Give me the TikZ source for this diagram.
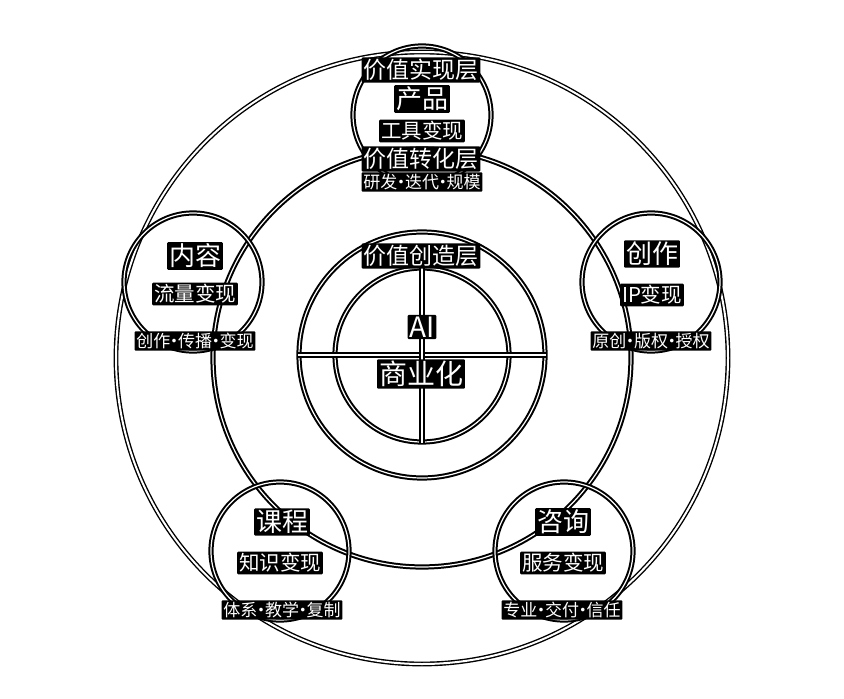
\documentclass[tikz,border=0pt]{standalone}
\usepackage{fontspec}
\newfontfamily\cjk{Noto Sans CJK SC}
\newcommand\mdot{\makebox[0.45em]{·}}
\begin{document}
\begin{tikzpicture}[x=1pt,y=-1pt,
  ln/.style={draw=black, line width=2pt, double=white, double distance=1.2pt},
  thinln/.style={draw=black, line width=1.4pt, double=white, double distance=2pt},
  ring/.style={ln, circle, inner sep=0pt, fill=none},
  lab/.style={fill=black, text=white, inner sep=1.8pt, rounded corners=1pt},
  fT/.style={lab, font=\cjk\fontsize{26}{28}\selectfont},
  fS/.style={lab, font=\cjk\fontsize{20.5}{22}\selectfont},
  fG/.style={lab, font=\cjk\fontsize{17}{19}\selectfont},
  fL/.style={lab, font=\cjk\fontsize{23}{25}\selectfont},
  fC/.style={lab, font=\cjk\fontsize{28}{30}\selectfont}]
\useasboundingbox (0,0) rectangle (844,699);
\fill[white] (0,0) rectangle (844,699);

% concentric layers
\node[ring, thinln, minimum size=612pt] (outer) at (422,358) {};
\node[ring, minimum size=418pt] (middle) at (422,358) {};
\node[ring, minimum size=246pt] (core) at (422,355) {};
\node[ring, minimum size=174pt] (inner) at (422,355) {};
\draw[ln] (core.west) -- (core.east);
\draw[ln] (inner.north) -- (inner.south);

% five satellites
\node[ring, minimum size=138pt] (sTop) at (422,115) {};
\node[ring, minimum size=138pt] (sL) at (193,282) {};
\node[ring, minimum size=138pt] (sR) at (651,282) {};
\node[ring, minimum size=138pt] (sBL) at (280,551) {};
\node[ring, minimum size=138pt] (sBR) at (564,551) {};

% satellite texts
\node[fT] (tTop) at (422,99) {产品};
\node[fS] (uTop) at (422,131) {工具变现};
\node[fG] (gTop) at (422,182) {研发\mdot 迭代\mdot 规模};

\node[fT] (tL) at (195,256) {内容};
\node[fS] (uL) at (195,294) {流量变现};
\node[fG] (gL) at (195,341) {创作\mdot 传播\mdot 变现};

\node[fT] (tR) at (652,254) {创作};
\node[fS] (uR) at (652,295) {IP变现};
\node[fG] (gR) at (651,341) {原创\mdot 版权\mdot 授权};

\node[fT] (tBL) at (282,522) {课程};
\node[fS] (uBL) at (280,563) {知识变现};
\node[fG] (gBL) at (282,610) {体系\mdot 教学\mdot 复制};

\node[fT] (tBR) at (563,522) {咨询};
\node[fS] (uBR) at (563,563) {服务变现};
\node[fG] (gBR) at (562,610) {专业\mdot 交付\mdot 信任};

% layer labels
\node[fL] (lOuter) at (421,70) {价值实现层};
\node[fL] (lMiddle) at (421,159) {价值转化层};
\node[fL] (lCore) at (421,256) {价值创造层};

% centre
\node[fC] (ai) at (422,327) {AI};
\node[fC] (biz) at (421,374) {商业化};
\end{tikzpicture}
\end{document}
